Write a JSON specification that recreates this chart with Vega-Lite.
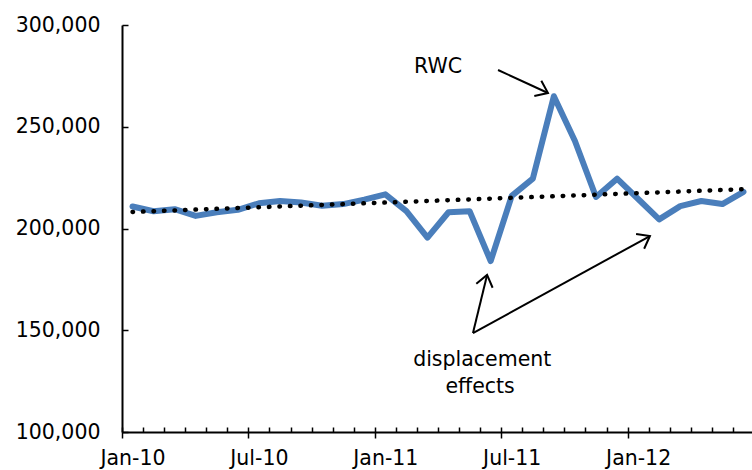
{
  "$schema": "https://vega.github.io/schema/vega-lite/v6.json",
  "width": 632,
  "height": 407,
  "autosize": {"type": "none"},
  "padding": {"left": 122, "top": 25, "right": 0, "bottom": 38},
  "background": "white",
  "config": {
    "view": {"stroke": null},
    "axis": {
      "labelFont": "DejaVu Sans",
      "labelFontSize": 20.5,
      "labelColor": "black",
      "domainColor": "black",
      "tickColor": "black",
      "grid": false,
      "title": null
    }
  },
  "datasets": {
    "series": [
      {"i": 0, "month": "Jan-10", "v": 210800},
      {"i": 1, "month": "Feb-10", "v": 208500},
      {"i": 2, "month": "Mar-10", "v": 209500},
      {"i": 3, "month": "Apr-10", "v": 206200},
      {"i": 4, "month": "May-10", "v": 208000},
      {"i": 5, "month": "Jun-10", "v": 209200},
      {"i": 6, "month": "Jul-10", "v": 212400},
      {"i": 7, "month": "Aug-10", "v": 213500},
      {"i": 8, "month": "Sep-10", "v": 212800},
      {"i": 9, "month": "Oct-10", "v": 211200},
      {"i": 10, "month": "Nov-10", "v": 212000},
      {"i": 11, "month": "Dec-10", "v": 214200},
      {"i": 12, "month": "Jan-11", "v": 216800},
      {"i": 13, "month": "Feb-11", "v": 208500},
      {"i": 14, "month": "Mar-11", "v": 195500},
      {"i": 15, "month": "Apr-11", "v": 208000},
      {"i": 16, "month": "May-11", "v": 208500},
      {"i": 17, "month": "Jun-11", "v": 184000},
      {"i": 18, "month": "Jul-11", "v": 216000},
      {"i": 19, "month": "Aug-11", "v": 224500},
      {"i": 20, "month": "Sep-11", "v": 265000},
      {"i": 21, "month": "Oct-11", "v": 243000},
      {"i": 22, "month": "Nov-11", "v": 215500},
      {"i": 23, "month": "Dec-11", "v": 224500},
      {"i": 24, "month": "Jan-12", "v": 214500},
      {"i": 25, "month": "Feb-12", "v": 204500},
      {"i": 26, "month": "Mar-12", "v": 211000},
      {"i": 27, "month": "Apr-12", "v": 213500},
      {"i": 28, "month": "May-12", "v": 212000},
      {"i": 29, "month": "Jun-12", "v": 218000}
    ],
    "notes": [
      {"label": "RWC", "i": 14.5, "v": 279400},
      {"label": "displacement", "i": 16.6, "v": 135400},
      {"label": "effects", "i": 16.5, "v": 122100}
    ],
    "arrows": [
      {"id": "rwc", "i": 17.35, "v": 277900, "i2": 19.72, "v2": 266600},
      {"id": "jun", "i": 16.16, "v": 148600, "i2": 16.83, "v2": 177200},
      {"id": "feb", "i": 16.16, "v": 148600, "i2": 24.56, "v2": 196300}
    ]
  },
  "layer": [
    {
      "data": {"name": "series"},
      "mark": {"type": "line", "color": "#4a7ebb", "strokeWidth": 6, "strokeJoin": "round", "strokeCap": "round"},
      "encoding": {
        "x": {
          "field": "i", "type": "quantitative",
          "scale": {"domain": [-0.5, 29.5], "nice": false, "zero": false},
          "axis": {
            "orient": "bottom",
            "values": [0, 6, 12, 18, 24],
            "labelExpr": "datum.value == 0 ? 'Jan-10' : datum.value == 6 ? 'Jul-10' : datum.value == 12 ? 'Jan-11' : datum.value == 18 ? 'Jul-11' : 'Jan-12'",
            "ticks": false,
            "domain": true,
            "domainWidth": 2,
            "labelPadding": 16,
            "labelFlush": false,
            "labelOverlap": false
          }
        },
        "y": {
          "field": "v", "type": "quantitative",
          "scale": {"domain": [100000, 300000], "nice": false, "zero": false},
          "axis": {
            "orient": "left",
            "values": [100000, 150000, 200000, 250000, 300000],
            "format": ",.0f",
            "ticks": false,
            "domain": true,
            "domainWidth": 2,
            "labelPadding": 22,
            "labelOverlap": false
          }
        }
      }
    },
    {
      "data": {"name": "series"},
      "transform": [{"regression": "v", "on": "i"}],
      "mark": {"type": "line", "color": "black", "strokeWidth": 4.5, "strokeCap": "round", "strokeDash": [0.5, 10]},
      "encoding": {
        "x": {
          "field": "i", "type": "quantitative",
          "scale": {"domain": [-0.5, 29.5], "nice": false, "zero": false},
          "axis": {
            "orient": "bottom",
            "offset": -5,
            "values": [-0.5, 0.5, 1.5, 2.5, 3.5, 4.5, 5.5, 6.5, 7.5, 8.5, 9.5, 10.5, 11.5, 12.5, 13.5, 14.5, 15.5, 16.5, 17.5, 18.5, 19.5, 20.5, 21.5, 22.5, 23.5, 24.5, 25.5, 26.5, 27.5, 28.5, 29.5],
            "labels": false,
            "domain": false,
            "ticks": true,
            "tickSize": 5,
            "tickWidth": 1.5
          }
        },
        "y": {
          "field": "v", "type": "quantitative",
          "scale": {"domain": [100000, 300000], "nice": false, "zero": false},
          "axis": {
            "orient": "left",
            "offset": -6,
            "values": [100000, 150000, 200000, 250000, 300000],
            "labels": false,
            "domain": false,
            "ticks": true,
            "tickSize": 6,
            "tickWidth": 1.5
          }
        }
      }
    },
    {
      "data": {"name": "arrows"},
      "mark": {"type": "rule", "color": "black", "strokeWidth": 2},
      "encoding": {
        "x": {
          "field": "i", "type": "quantitative",
          "scale": {"domain": [-0.5, 29.5], "nice": false, "zero": false},
          "axis": {
            "orient": "bottom",
            "values": [-0.5, 5.5, 11.5, 17.5, 23.5, 29.5],
            "labels": false,
            "domain": false,
            "ticks": true,
            "tickSize": 6,
            "tickWidth": 1.5
          }
        },
        "y": {
          "field": "v", "type": "quantitative",
          "scale": {"domain": [100000, 300000], "nice": false, "zero": false},
          "axis": null
        },
        "x2": {"field": "i2"},
        "y2": {"field": "v2"}
      }
    },
    {
      "data": {"name": "arrows"},
      "transform": [{"filter": "datum.id == 'rwc'"}],
      "mark": {"type": "point", "shape": "M-1,-0.75L0,0L-1,0.75", "filled": false, "stroke": "black", "strokeWidth": 2, "size": 500, "angle": 24.7, "opacity": 1},
      "encoding": {
        "x": {"field": "i2", "type": "quantitative", "scale": {"domain": [-0.5, 29.5], "nice": false, "zero": false}, "axis": null},
        "y": {"field": "v2", "type": "quantitative", "scale": {"domain": [100000, 300000], "nice": false, "zero": false}, "axis": null}
      }
    },
    {
      "data": {"name": "arrows"},
      "transform": [{"filter": "datum.id == 'jun'"}],
      "mark": {"type": "point", "shape": "M-1,-0.75L0,0L-1,0.75", "filled": false, "stroke": "black", "strokeWidth": 2, "size": 500, "angle": -76.4, "opacity": 1},
      "encoding": {
        "x": {"field": "i2", "type": "quantitative", "scale": {"domain": [-0.5, 29.5], "nice": false, "zero": false}, "axis": null},
        "y": {"field": "v2", "type": "quantitative", "scale": {"domain": [100000, 300000], "nice": false, "zero": false}, "axis": null}
      }
    },
    {
      "data": {"name": "arrows"},
      "transform": [{"filter": "datum.id == 'feb'"}],
      "mark": {"type": "point", "shape": "M-1,-0.75L0,0L-1,0.75", "filled": false, "stroke": "black", "strokeWidth": 2, "size": 500, "angle": -28.7, "opacity": 1},
      "encoding": {
        "x": {"field": "i2", "type": "quantitative", "scale": {"domain": [-0.5, 29.5], "nice": false, "zero": false}, "axis": null},
        "y": {"field": "v2", "type": "quantitative", "scale": {"domain": [100000, 300000], "nice": false, "zero": false}, "axis": null}
      }
    },
    {
      "data": {"name": "notes"},
      "mark": {"type": "text", "font": "DejaVu Sans", "fontSize": 20.5, "color": "black", "align": "center", "baseline": "middle"},
      "encoding": {
        "x": {"field": "i", "type": "quantitative", "scale": {"domain": [-0.5, 29.5], "nice": false, "zero": false}, "axis": null},
        "y": {"field": "v", "type": "quantitative", "scale": {"domain": [100000, 300000], "nice": false, "zero": false}, "axis": null},
        "text": {"field": "label"}
      }
    }
  ],
  "resolve": {
    "scale": {"x": "independent", "y": "independent"},
    "axis": {"x": "independent", "y": "independent"}
  }
}
